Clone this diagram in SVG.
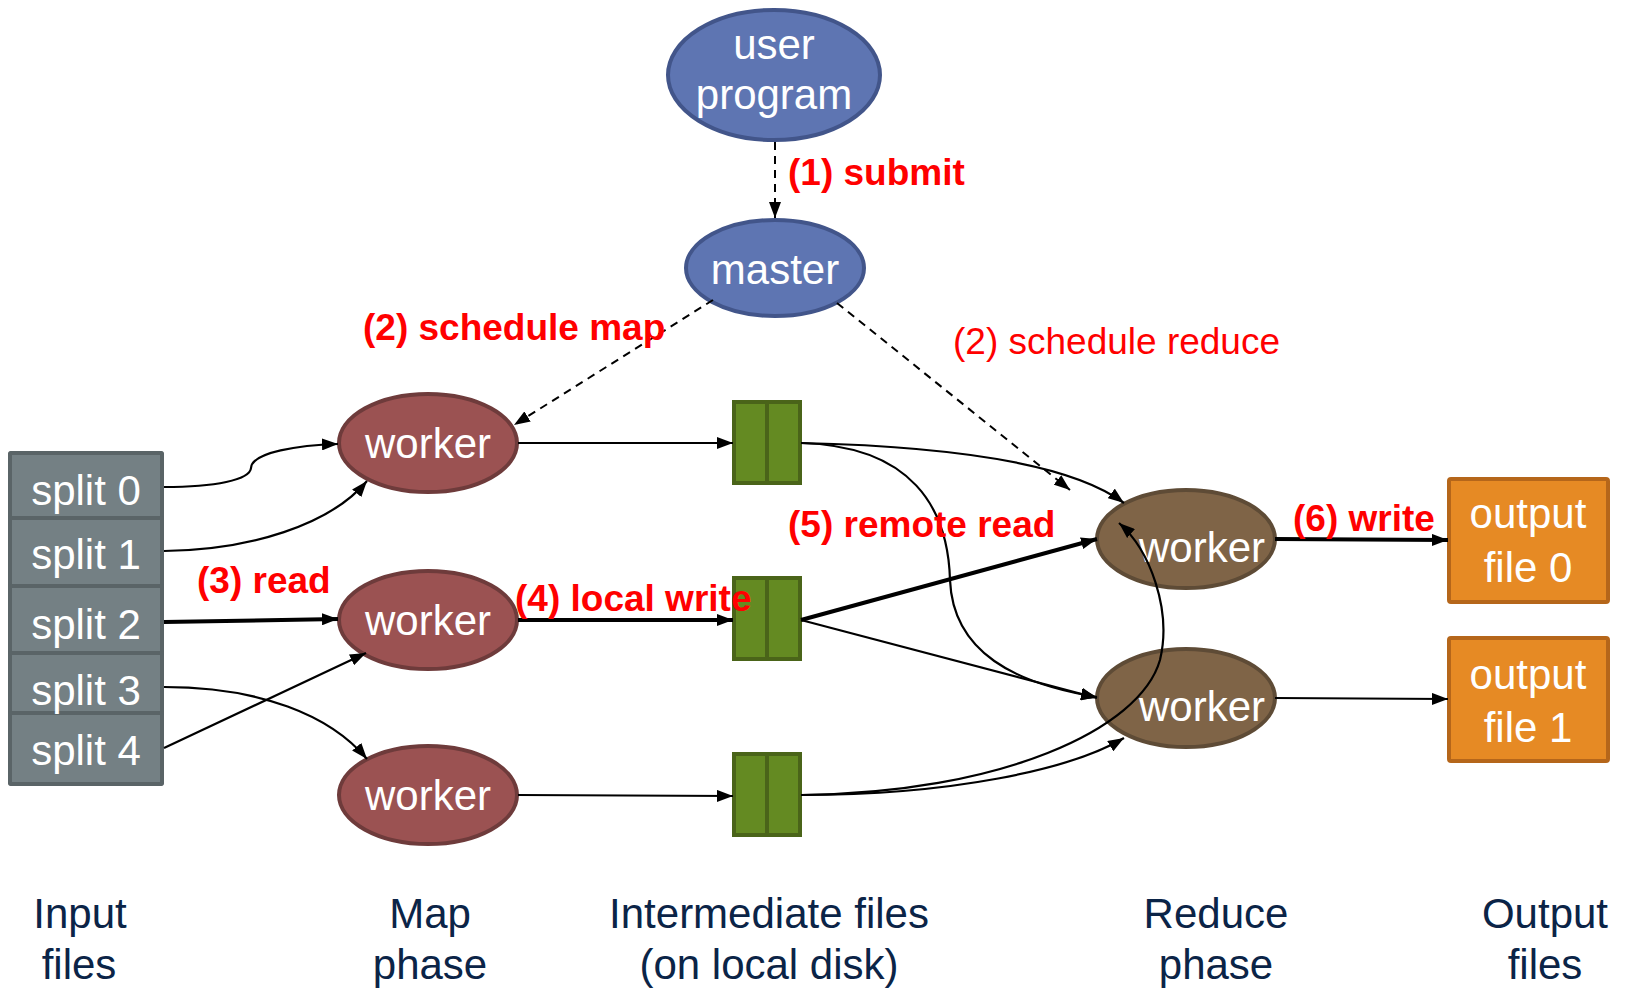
<svg xmlns="http://www.w3.org/2000/svg" width="1625" height="990" viewBox="0 0 1625 990">
  <defs>
    <marker id="arrow" viewBox="0 0 16 12" refX="16" refY="6" markerWidth="16" markerHeight="12" markerUnits="userSpaceOnUse" orient="auto">
      <path d="M0,0 L16,6 L0,12 Z" fill="#000"/>
    </marker>
    <style>
      .blue { fill: #5E75B2; stroke: #42558A; stroke-width: 4; }
      .map { fill: #9B5252; stroke: #6E3B3B; stroke-width: 4; }
      .red { fill: #7F6447; stroke: #5E4B36; stroke-width: 4; }
      .disk { fill: #648A22; stroke: #4A6419; stroke-width: 4; }
      .out { fill: #E68A24; stroke: #B5661A; stroke-width: 4; }
      .cell { fill: #748084; stroke: #5A6467; stroke-width: 4; }
      .node-text { font-family: "Liberation Sans", Arial, sans-serif; font-size: 42px; fill: #FFFFFF; text-anchor: middle; }
      .step { font-family: "Liberation Sans", Arial, sans-serif; font-size: 37px; font-weight: bold; fill: #FF0000; }
      .step-plain { font-family: "Liberation Sans", Arial, sans-serif; font-size: 37px; fill: #FF0000; }
      .phase { font-family: "Liberation Sans", Arial, sans-serif; font-size: 42px; fill: #0B2447; text-anchor: middle; }
      .edge { fill: none; stroke: #000; stroke-width: 2.2; marker-end: url(#arrow); }
      .thick { fill: none; stroke: #000; stroke-width: 4; marker-end: url(#arrow); }
      .dash { fill: none; stroke: #000; stroke-width: 2; stroke-dasharray: 8 6; marker-end: url(#arrow); }
    </style>
  </defs>

  <rect width="1625" height="990" fill="#FFFFFF"/>

  <!-- user program -->
  <g id="user-program">
    <ellipse class="blue" cx="774" cy="75" rx="106" ry="65"/>
    <text class="node-text" x="774" y="59">user</text>
    <text class="node-text" x="774" y="109">program</text>
  </g>

  <!-- master -->
  <g id="master">
    <ellipse class="blue" cx="775" cy="268" rx="89" ry="48"/>
    <text class="node-text" x="775" y="284">master</text>
  </g>

  <!-- input splits -->
  <g id="input-splits">
    <rect x="8" y="451" width="156" height="335" rx="3" fill="#5A6467"/>
    <rect class="cell" x="10" y="453" width="152" height="65" rx="2"/>
    <rect class="cell" x="10" y="518" width="152" height="68" rx="2"/>
    <rect class="cell" x="10" y="586" width="152" height="67" rx="2"/>
    <rect class="cell" x="10" y="653" width="152" height="60" rx="2"/>
    <rect class="cell" x="10" y="713" width="152" height="71" rx="2"/>
    <text class="node-text" x="86" y="505">split 0</text>
    <text class="node-text" x="86" y="569">split 1</text>
    <text class="node-text" x="86" y="639">split 2</text>
    <text class="node-text" x="86" y="705">split 3</text>
    <text class="node-text" x="86" y="765">split 4</text>
  </g>

  <!-- map workers -->
  <g id="map-worker-1">
    <ellipse class="map" cx="428" cy="443" rx="89" ry="49"/>
    <text class="node-text" x="428" y="458">worker</text>
  </g>
  <g id="map-worker-2">
    <ellipse class="map" cx="428" cy="620" rx="89" ry="49"/>
    <text class="node-text" x="428" y="635">worker</text>
  </g>
  <g id="map-worker-3">
    <ellipse class="map" cx="428" cy="795" rx="89" ry="49"/>
    <text class="node-text" x="428" y="810">worker</text>
  </g>

  <!-- intermediate files -->
  <g id="intermediate-1">
    <rect class="disk" x="734" y="402" width="33" height="81"/>
    <rect class="disk" x="767" y="402" width="33" height="81"/>
  </g>
  <g id="intermediate-2">
    <rect class="disk" x="734" y="578" width="33" height="81"/>
    <rect class="disk" x="767" y="578" width="33" height="81"/>
  </g>
  <g id="intermediate-3">
    <rect class="disk" x="734" y="754" width="33" height="81"/>
    <rect class="disk" x="767" y="754" width="33" height="81"/>
  </g>

  <!-- reduce workers -->
  <g id="reduce-worker-1">
    <ellipse class="red" cx="1186" cy="539" rx="89" ry="49"/>
    <text class="node-text" x="1202" y="562">worker</text>
  </g>
  <g id="reduce-worker-2">
    <ellipse class="red" cx="1186" cy="698" rx="89" ry="49"/>
    <text class="node-text" x="1202" y="721">worker</text>
  </g>

  <!-- output files -->
  <g id="output-file-0">
    <rect class="out" x="1449" y="479" width="159" height="123" rx="2"/>
    <text class="node-text" x="1528" y="528">output</text>
    <text class="node-text" x="1528" y="582">file 0</text>
  </g>
  <g id="output-file-1">
    <rect class="out" x="1449" y="638" width="159" height="123" rx="2"/>
    <text class="node-text" x="1528" y="689">output</text>
    <text class="node-text" x="1528" y="742">file 1</text>
  </g>

  <!-- connectors, drawn over the nodes -->
  <g id="connectors">
    <path class="dash" d="M775,142 L775,218"/>
    <path class="dash" d="M713,300 L514,425"/>
    <path class="dash" d="M837,303 L1070,490"/>

    <path class="edge" d="M164,487 C215,487 250,480 251,468 C252,452 300,445 338,444"/>
    <path class="edge" d="M164,551 C250,550 330,525 367,481"/>
    <path class="thick" d="M164,622 L338,619"/>
    <path class="edge" d="M164,687 C260,687 330,715 367,759"/>
    <path class="edge" d="M164,748 L366,653"/>

    <path class="edge" d="M518,443 L733,443"/>
    <path class="thick" d="M518,620 L733,620"/>
    <path class="edge" d="M518,795 L733,796"/>

    <path class="edge" d="M801,443 C980,447 1080,470 1124,503"/>
    <path class="edge" d="M801,443 C912,446 948,508 950,580 C953,653 1016,684 1097,697"/>
    <path class="thick" d="M801,620 L1097,539"/>
    <path class="edge" d="M801,620 L1097,698"/>
    <path class="edge" d="M801,795 C950,795 1070,770 1124,738"/>
    <path class="edge" d="M801,795 C1000,793 1140,730 1160,660 C1172,610 1150,550 1119,523"/>

    <path class="thick" d="M1275,539 L1448,540"/>
    <path class="edge" d="M1275,698 L1448,699"/>
  </g>

  <!-- step labels -->
  <g id="step-labels">
    <text class="step" x="788" y="185">(1) submit</text>
    <text class="step" x="363" y="340">(2) schedule map</text>
    <text class="step-plain" x="953" y="354">(2) schedule reduce</text>
    <text class="step" x="197" y="593">(3) read</text>
    <text class="step" x="515" y="611">(4) local write</text>
    <text class="step" x="788" y="537">(5) remote read</text>
    <text class="step" x="1293" y="531">(6) write</text>
  </g>

  <!-- phase captions -->
  <g id="phase-captions">
    <text class="phase" x="80" y="928">Input</text>
    <text class="phase" x="79" y="979">files</text>
    <text class="phase" x="430" y="928">Map</text>
    <text class="phase" x="430" y="979">phase</text>
    <text class="phase" x="769" y="928">Intermediate files</text>
    <text class="phase" x="769" y="979">(on local disk)</text>
    <text class="phase" x="1216" y="928">Reduce</text>
    <text class="phase" x="1216" y="979">phase</text>
    <text class="phase" x="1545" y="928">Output</text>
    <text class="phase" x="1545" y="979">files</text>
  </g>
</svg>
